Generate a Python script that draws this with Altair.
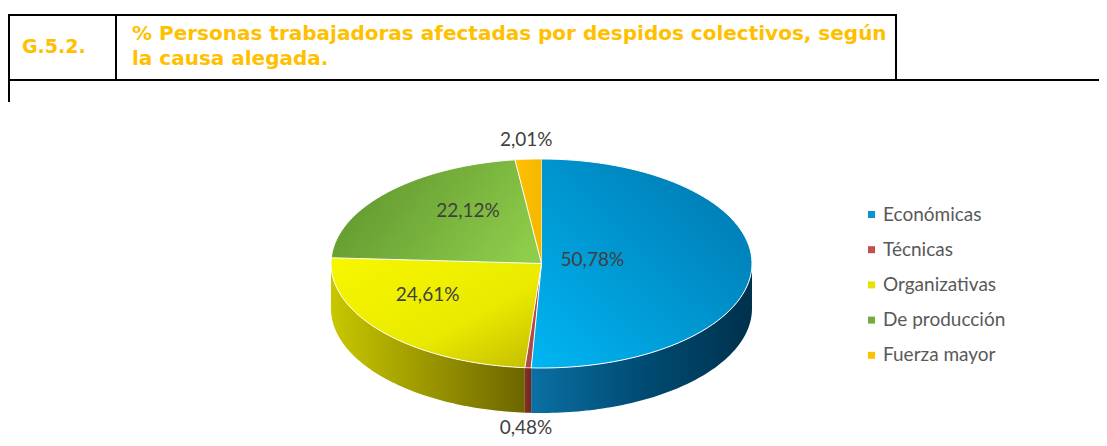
import altair as alt
import pandas as pd

# ---- data ----
categories = ["Económicas", "Técnicas", "Organizativas", "De producción", "Fuerza mayor"]
values = [50.78, 0.48, 24.61, 22.12, 2.01]
chart_code = "G.5.2."
title_lines = ["% Personas trabajadoras afectadas por despidos colectivos, según",
               "la causa alegada."]

# ---- styles ----
flat_colors = ["#0A93D3", "#C0504D", "#E4E400", "#72AC3C", "#FFC000"]


def lin(x1, y1, x2, y2, stops):
    return {"gradient": "linear", "x1": x1, "y1": y1, "x2": x2, "y2": y2,
            "stops": [{"offset": o, "color": c} for o, c in stops]}


top_grad = {
    "Económicas": lin(1, 0, 0, 1, [(0, "#0074AB"), (1, "#00B6F3")]),
    "Técnicas": lin(0, 0, 1, 1, [(0, "#C0504D"), (1, "#A84340")]),
    "Organizativas": lin(0, 0, 1, 1, [(0, "#F7F700"), (0.6, "#EAEA00"), (1, "#C2BC00")]),
    "De producción": lin(0, 0.3, 1, 0.7, [(0, "#5F952D"), (1, "#8ECC4B")]),
    "Fuerza mayor": lin(0, 0, 1, 0, [(0, "#FFC000"), (1, "#F5B800")]),
}
side_grad = {
    "Económicas": lin(0, 0, 1, 0, [(0, "#0A70A3"), (0.5, "#004C74"), (1, "#00314C")]),
    "Técnicas": lin(0, 0, 1, 0, [(0, "#8A302D"), (1, "#6E2422")]),
    "Organizativas": lin(0, 0, 1, 0, [(0, "#C9C700"), (1, "#6C6600")]),
    "De producción": lin(0, 0, 1, 0, [(0, "#4A7A22"), (1, "#3A6018")]),
    "Fuerza mayor": lin(0, 0, 1, 0, [(0, "#C99800"), (1, "#A07800")]),
}

W, H = 1091, 430
CX, CY, RX, RY = 533.5, 255.5, 210.5, 104.5
DEPTH = 45 / RY
N = 80

df = pd.DataFrame({"cat": categories, "value": values,
                   "order": list(range(len(categories)))})

xs = alt.Scale(domain=[-1, 1], range=[CX - RX, CX + RX], nice=False, zero=False)
ys = alt.Scale(domain=[-1, 1], range=[CY + RY, CY - RY], nice=False, zero=False)

base = (
    alt.Chart(df)
    .transform_window(cum="sum(value)", sort=[alt.SortField("order", order="ascending")],
                      frame=[None, 0])
    .transform_joinaggregate(total="sum(value)")
    .transform_calculate(a2="2*PI*datum.cum/datum.total")
    .transform_calculate(a1="2*PI*(datum.cum-datum.value)/datum.total")
)


def top_geom(ch):
    return (ch.transform_calculate(idx=f"sequence(0, {N + 2})")
            .transform_flatten(["idx"])
            .transform_calculate(ang=f"datum.a1 + (datum.a2 - datum.a1) * (datum.idx - 1) / {N}")
            .transform_calculate(X="datum.idx == 0 ? 0 : sin(datum.ang)")
            .transform_calculate(Y="datum.idx == 0 ? 0 : cos(datum.ang)"))


def side_geom(ch):
    return (ch.transform_calculate(s1="max(datum.a1, PI/2)")
            .transform_calculate(s2="min(datum.a2, 3*PI/2)")
            .transform_filter("datum.s2 > datum.s1")
            .transform_calculate(idx=f"sequence(0, {2 * N + 2})")
            .transform_flatten(["idx"])
            .transform_calculate(k=f"datum.idx <= {N} ? datum.idx : {2 * N + 1} - datum.idx")
            .transform_calculate(ang=f"datum.s1 + (datum.s2 - datum.s1) * datum.k / {N}")
            .transform_calculate(X="sin(datum.ang)")
            .transform_calculate(Y=f"cos(datum.ang) - (datum.idx > {N} ? {DEPTH} : 0)"))


def enc(ch, **kw):
    return ch.encode(x=alt.X("X:Q", scale=xs, axis=None),
                     y=alt.Y("Y:Q", scale=ys, axis=None),
                     order=alt.Order("idx:Q"),
                     detail="cat:N", **kw)


legend = alt.Legend(title=None, orient="none", legendX=854, legendY=197,
                    symbolType="square", symbolSize=49, symbolStrokeWidth=0,
                    labelFont="Lato", labelFontSize=19, labelColor="#595959",
                    rowPadding=15.2, labelOffset=2, padding=0)

top_flat = enc(top_geom(base).mark_line(filled=True, stroke="white", strokeWidth=1),
               color=alt.Color("cat:N", scale=alt.Scale(domain=categories, range=flat_colors),
                               legend=legend))

sides = []
tops = []
for c in categories:
    sub = base.transform_filter(alt.datum.cat == c)
    sides.append(enc(side_geom(sub).mark_line(filled=True, fill=side_grad[c])))
    tops.append(enc(top_geom(sub).mark_line(filled=True, fill=top_grad[c],
                                            stroke="white", strokeWidth=1)))

labels = (
    base.transform_calculate(mid="(datum.a1 + datum.a2) / 2")
    .transform_calculate(k="datum.value > 40 ? 0.24 : 0.6")
    .transform_calculate(
        X="datum.value < 5 ? 1.15 * sin(datum.mid) : datum.k * sin(datum.mid) * (1 - 0.3 * cos(datum.mid))")
    .transform_calculate(
        Y=f"datum.value < 5 ? (cos(datum.mid) > 0 ? 1.18 : -1.14 - {DEPTH}) : datum.k * (cos(datum.mid) + 0.15)")
    .transform_calculate(lab="replace(format(datum.value, '.2f'), '.', ',') + '%'")
    .mark_text(font="Lato", fontSize=19, color="#404040", align="center", baseline="middle")
    .encode(x=alt.X("X:Q", scale=xs, axis=None), y=alt.Y("Y:Q", scale=ys, axis=None),
            text="lab:N")
)

dummy = pd.DataFrame({"d": [0]})


def hrule(x1, x2, y):
    return alt.Chart(dummy).mark_rule(color="black", strokeWidth=2).encode(
        x=alt.value(x1), x2=alt.value(x2), y=alt.value(y))


def vrule(x, y1, y2):
    return alt.Chart(dummy).mark_rule(color="black", strokeWidth=2).encode(
        x=alt.value(x), y=alt.value(y1), y2=alt.value(y2))


def txt(s, x, y, size):
    return alt.Chart(dummy).mark_text(align="left", baseline="middle", font="DejaVu Sans",
                                      fontWeight="bold", fontSize=size, color="#FFC000").encode(
        x=alt.value(x), y=alt.value(y), text=alt.value(s))


frame = [
    hrule(0, 889, 7),
    hrule(0, W, 72),
    vrule(1, 6, 94),
    vrule(108, 7, 72),
    vrule(888, 7, 72),
]
texts = [
    txt(chart_code, 14, 39, 19),
    txt(title_lines[0], 124, 26, 20),
    txt(title_lines[1], 124, 51, 20),
]

chart = alt.layer(top_flat, *sides, *tops, labels, *frame, *texts).properties(
    width=W, height=H, padding=0, autosize="none"
).configure_view(stroke=None)

chart.save("out.html", embed_options={"renderer": "svg", "actions": False})
